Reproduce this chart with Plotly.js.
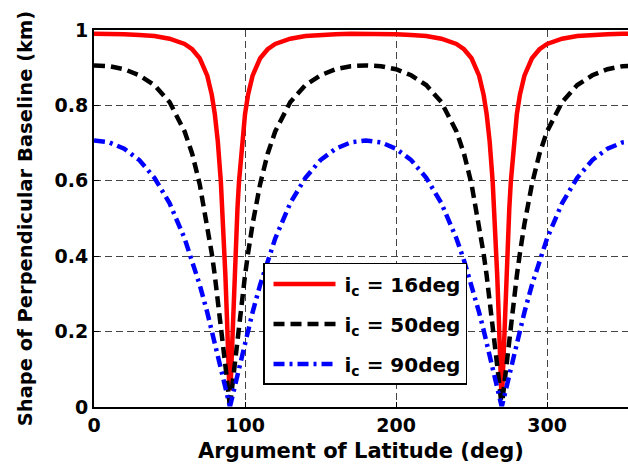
<!DOCTYPE html>
<html>
<head>
<meta charset="utf-8">
<script src="https://cdn.plot.ly/plotly-3.0.1.min.js"></script>
<style>html,body{margin:0;padding:0;background:#fff;}#chart{width:628px;height:470px;}</style>
</head>
<body>
<div id="chart"></div>
<script>
// Argument of latitude (deg)
var latitude = [0,10,20,30,40,50,60,65,70,75,78,80,82,84,85,86,87,88,89,89.6,
  90.4,91,92,93,94,95,96,98,100,102,105,110,115,120,130,140,150,160,170,180,
  190,200,210,220,230,240,245,250,255,258,260,262,264,265,266,267,268,269,269.6,
  270.4,271,272,273,274,275,276,278,280,282,285,290,295,300,310,320,330,340,350,360];

// i_c = 16deg
var baseline16 = [0.990,0.990,0.989,0.987,0.984,0.977,0.963,0.949,0.925,0.879,0.828,0.777,0.704,0.597,0.527,0.445,0.349,0.241,0.123,0.050,
  0.050,0.123,0.241,0.349,0.445,0.527,0.597,0.704,0.777,0.828,0.879,0.925,0.949,0.963,0.977,0.984,0.987,0.989,0.990,0.990,
  0.990,0.989,0.987,0.984,0.977,0.963,0.949,0.925,0.879,0.828,0.777,0.704,0.597,0.527,0.445,0.349,0.241,0.123,0.050,
  0.050,0.123,0.241,0.349,0.445,0.527,0.597,0.704,0.777,0.828,0.879,0.925,0.949,0.963,0.977,0.984,0.987,0.989,0.990,0.990];

// i_c = 50deg
var baseline50 = [0.906,0.904,0.896,0.880,0.854,0.809,0.731,0.672,0.591,0.485,0.407,0.349,0.286,0.219,0.184,0.148,0.112,0.075,0.037,0.015,
  0.015,0.037,0.075,0.112,0.148,0.184,0.219,0.286,0.349,0.407,0.485,0.591,0.672,0.731,0.809,0.854,0.880,0.896,0.904,0.906,
  0.904,0.896,0.880,0.854,0.809,0.731,0.672,0.591,0.485,0.407,0.349,0.286,0.219,0.184,0.148,0.112,0.075,0.037,0.015,
  0.015,0.037,0.075,0.112,0.148,0.184,0.219,0.286,0.349,0.407,0.485,0.591,0.672,0.731,0.809,0.854,0.880,0.896,0.904,0.906];

// i_c = 90deg
var baseline90 = [0.707,0.702,0.685,0.655,0.608,0.541,0.447,0.389,0.324,0.251,0.204,0.171,0.138,0.104,0.087,0.070,0.052,0.035,0.017,0.007,
  0.007,0.017,0.035,0.052,0.070,0.087,0.104,0.138,0.171,0.204,0.251,0.324,0.389,0.447,0.541,0.608,0.655,0.685,0.702,0.707,
  0.702,0.685,0.655,0.608,0.541,0.447,0.389,0.324,0.251,0.204,0.171,0.138,0.104,0.087,0.070,0.052,0.035,0.017,0.007,
  0.007,0.017,0.035,0.052,0.070,0.087,0.104,0.138,0.171,0.204,0.251,0.324,0.389,0.447,0.541,0.608,0.655,0.685,0.702,0.707];

var seriesNames = ['i<sub>c</sub> = 16deg','i<sub>c</sub> = 50deg','i<sub>c</sub> = 90deg'];
var xTicks = [0,100,200,300];
var yTicks = [0,0.2,0.4,0.6,0.8,1];
var yTickLabels = ['0','0.2','0.4','0.6','0.8','1'];

var FONT = 'DejaVu Sans, sans-serif';
var TF = {family: FONT, size: 19, color: '#000', weight: 'bold'};

var traces = [
  {x: latitude, y: baseline16, name: seriesNames[0], legendgroup: 'a', mode: 'lines',
   line: {color: '#ff0000', width: 4.5}},
  {x: latitude, y: baseline50, name: seriesNames[1], legendgroup: 'b', mode: 'lines',
   line: {color: '#000000', width: 4.5, dash: '11px,6px'}},
  {x: latitude, y: baseline90, name: seriesNames[2], legendgroup: 'c', mode: 'lines',
   line: {color: '#0000ff', width: 4.5, dash: '11px,5px,3px,5px'}}
];

var layout = {
  width: 628, height: 470,
  margin: {l: 94, r: 0, t: 30, b: 63, pad: 0},
  paper_bgcolor: '#ffffff', plot_bgcolor: '#ffffff',
  font: TF,
  showlegend: true,
  legend: {x: 0.3165, y: 0.382, xanchor: 'left', yanchor: 'top',
    bgcolor: '#ffffff', bordercolor: '#000', borderwidth: 1.5,
    font: {family: FONT, size: 20, color: '#000', weight: 'bold'},
    itemwidth: 70, tracegroupgap: 11},
  xaxis: {
    range: [0, 353.6], tickvals: xTicks, ticktext: xTicks.map(String),
    showline: true, linecolor: '#000', linewidth: 2, mirror: true,
    ticks: 'inside', ticklen: 5, tickcolor: '#000',
    showgrid: true, gridcolor: '#444', gridwidth: 1, griddash: '7px,4px',
    zeroline: false, tickfont: TF,
    title: {text: 'Argument of Latitude (deg)', standoff: 9,
      font: {family: FONT, size: 21, color: '#000', weight: 'bold'}}
  },
  yaxis: {
    range: [0, 1], tickvals: yTicks, ticktext: yTickLabels,
    showline: true, linecolor: '#000', linewidth: 2, mirror: false,
    ticks: 'inside', ticklen: 5, tickcolor: '#000',
    showgrid: true, gridcolor: '#444', gridwidth: 1, griddash: '7px,4px',
    zeroline: false, tickfont: TF,
    title: {text: 'Shape of Perpendicular Baseline (km)', standoff: 17,
      font: {family: FONT, size: 19.5, color: '#000', weight: 'bold'}}
  }
};

Plotly.newPlot('chart', traces, layout, {displayModeBar: false, staticPlot: true}).then(function(gd){
  // lengthen the legend line samples to match the reference
  var paths = gd.querySelectorAll('.legend .legendlines path');
  paths.forEach(function(p){ p.setAttribute('d', 'M9,0h62'); });
});
</script>
</body>
</html>
